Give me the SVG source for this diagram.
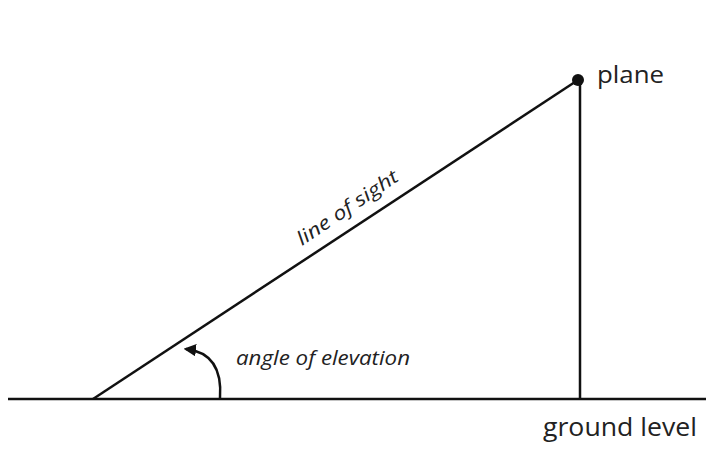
<svg xmlns="http://www.w3.org/2000/svg" width="706" height="449" viewBox="0 0 706 449">
<style>
.ln{stroke:#111;stroke-width:2.5;fill:none}
.t{font-family:"Open Sans","Liberation Sans",sans-serif;fill:#222}
.it{font-style:italic}
</style>
<defs>
<marker id="ah" viewBox="0 0 10 10" refX="8" refY="5" markerWidth="5" markerHeight="5" orient="auto">
<path d="M0,0 L10,5 L0,10 z" fill="#111"/>
</marker>
</defs>
<rect width="706" height="449" fill="#fff"/>
<g id="connectors">
<line id="ground" class="ln" x1="8" y1="399" x2="706" y2="399"/>
<line id="sight" class="ln" x1="93" y1="399" x2="578" y2="80"/>
<line id="vertical" class="ln" x1="580" y1="80" x2="580" y2="399"/>
<path id="arc" class="ln" d="M220,398 C222,370 212,352 186,349" marker-end="url(#ah)"/>
</g>
<g id="plane">
<circle cx="578" cy="80" r="6" fill="#111"/>
<text class="t" x="597" y="83" font-size="24" textLength="67" lengthAdjust="spacingAndGlyphs">plane</text>
</g>
<g id="ground-level">
<text class="t" x="543" y="436" font-size="25" textLength="154" lengthAdjust="spacingAndGlyphs">ground level</text>
</g>
<g id="angle-label">
<text class="t it" x="236" y="365" font-size="20" textLength="174" lengthAdjust="spacingAndGlyphs">angle of elevation</text>
</g>
<g id="sight-label">
<text class="t it" font-size="19" transform="translate(302,246) rotate(-34)" textLength="118" lengthAdjust="spacingAndGlyphs">line of sight</text>
</g>
</svg>
